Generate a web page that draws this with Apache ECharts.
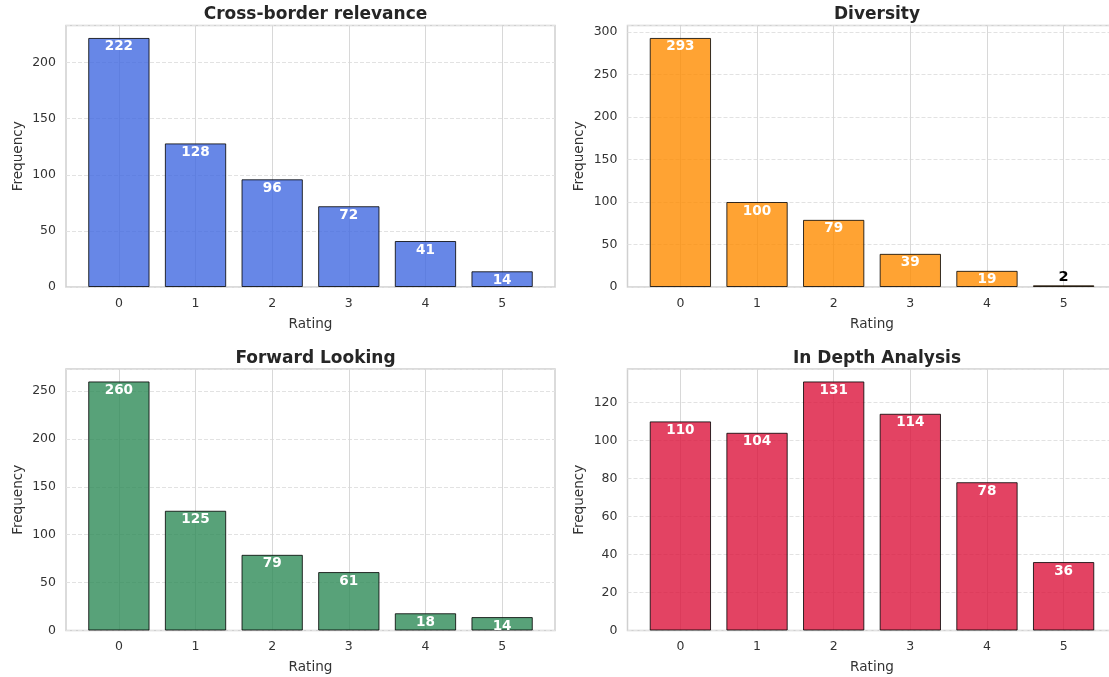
<!DOCTYPE html>
<html>
<head>
<meta charset="utf-8">
<script src="https://cdn.jsdelivr.net/npm/echarts@6/dist/echarts.min.js"></script>
<style>
html,body{margin:0;padding:0;background:#fff;overflow:hidden;width:1109px;height:677px;}
#chart{width:1125px;height:677px;}
</style>
</head>
<body>
<div id="chart"></div>
<script>
// ---- data ----
const ratings = [0, 1, 2, 3, 4, 5];
const crossBorder = [222, 128, 96, 72, 41, 14];
const diversity = [293, 100, 79, 39, 19, 2];
const forwardLooking = [260, 125, 79, 61, 18, 14];
const inDepth = [110, 104, 131, 114, 78, 36];
const panelTitles = ['Cross-border relevance', 'Diversity', 'Forward Looking', 'In Depth Analysis'];
const panelValues = [crossBorder, diversity, forwardLooking, inDepth];
const panelColors = ['#4169E1', '#FF8C00', '#2E8B57', '#DC143C'];
const yIntervals = [50, 50, 50, 20];

// ---- layout ----
const FONT = 'DejaVu Sans';
const TEXT = '#333333';
const panels = [
  { left: 66, top: 25.5 },
  { left: 627.5, top: 25.5 },
  { left: 66, top: 369 },
  { left: 627.5, top: 369 }
];
const PW = 489, PH = 261.5;

const option = {
  backgroundColor: '#ffffff',
  animation: false,
  title: [], grid: [], xAxis: [], yAxis: [], series: []
};

panels.forEach((p, i) => {
  const vals = panelValues[i];
  const vmax = Math.max(...vals);
  option.title.push({
    text: panelTitles[i],
    left: p.left + PW / 2,
    top: p.top - 24,
    textAlign: 'center',
    textStyle: { fontFamily: FONT, fontSize: 17, fontWeight: 'bold', color: '#262626' }
  });
  option.grid.push({
    left: p.left, top: p.top, width: PW, height: PH,
    show: true, borderColor: '#d0d0d0', borderWidth: 1.5, backgroundColor: '#fff'
  });
  option.xAxis.push({
    type: 'value', gridIndex: i,
    min: -0.69, max: 5.69,
    name: 'Rating', nameLocation: 'middle', nameGap: 30,
    nameTextStyle: { fontFamily: FONT, fontSize: 13.6, color: TEXT },
    axisLine: { show: false },
    axisTick: { show: false, customValues: ratings },
    axisLabel: { customValues: ratings, margin: 10, fontFamily: FONT, fontSize: 12.5, color: TEXT },
    splitLine: { show: true, lineStyle: { color: '#d8d8d8', width: 1, type: 'solid' } }
  });
  option.yAxis.push({
    type: 'value', gridIndex: i,
    min: 0, max: vmax * 1.05, interval: yIntervals[i],
    name: 'Frequency', nameLocation: 'middle', nameGap: 41,
    nameTextStyle: { fontFamily: FONT, fontSize: 13.6, color: TEXT },
    axisLine: { show: false },
    axisTick: { show: false },
    axisLabel: { showMaxLabel: false, margin: 10, fontFamily: FONT, fontSize: 12.5, color: TEXT },
    splitLine: { show: true, lineStyle: { color: '#e2e2e2', width: 1, type: [4, 2] } }
  });
  option.series.push({
    type: 'bar', xAxisIndex: i, yAxisIndex: i,
    barWidth: '80%',
    itemStyle: { color: panelColors[i], opacity: 0.8, borderColor: '#000', borderWidth: 1 },
    label: {
      show: true, position: 'insideTop', distance: 2, opacity: 1,
      formatter: (d) => String(d.value[1]),
      fontFamily: FONT, fontSize: 13.6, fontWeight: 'bold', color: '#ffffff'
    },
    data: ratings.map((r, k) => {
      const item = { value: [r, vals[k]] };
      if (vals[k] < vmax * 0.05) {
        item.label = { position: 'top', color: '#000000', distance: 1, fontSize: 14.5 };
      }
      return item;
    })
  });
});

const chart = echarts.init(document.getElementById('chart'), null, { renderer: 'canvas' });
chart.setOption(option);
</script>
</body>
</html>
